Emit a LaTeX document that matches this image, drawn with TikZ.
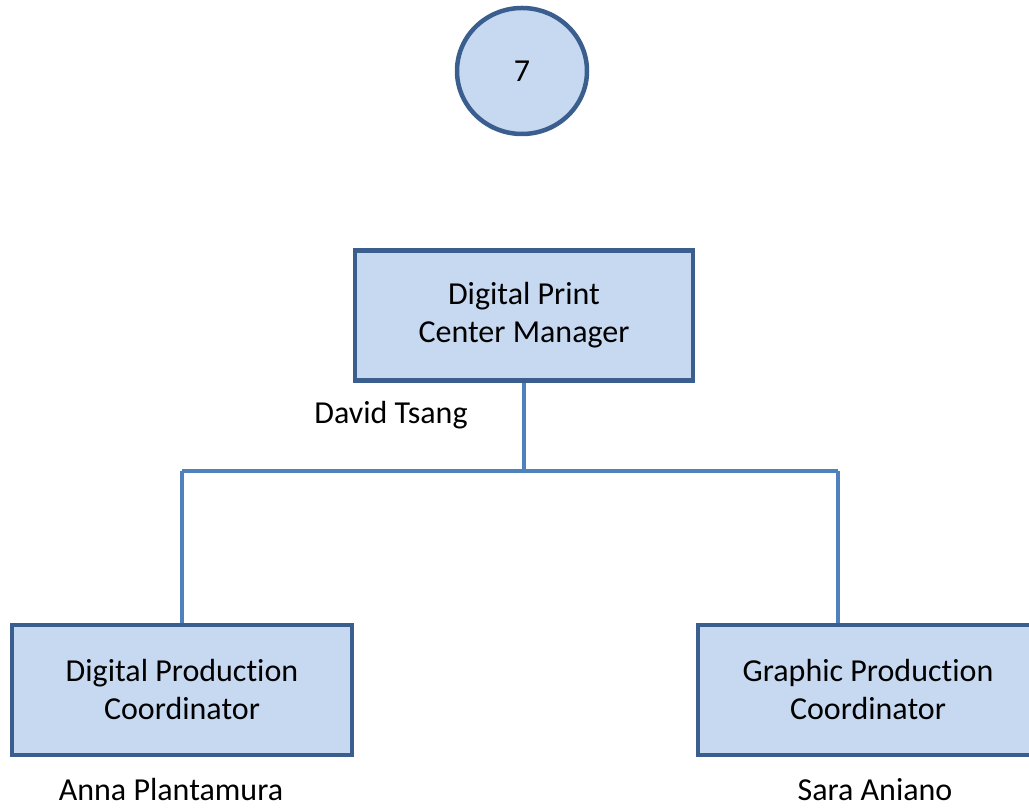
\documentclass[tikz,border=0pt]{standalone}
\usepackage{fontspec}
\setmainfont[Ligatures={NoCommon}]{Carlito}
\usetikzlibrary{shapes.geometric,backgrounds}
\definecolor{boxfill}{HTML}{C6D9F1}
\definecolor{boxline}{HTML}{3A5F8E}
\definecolor{conn}{HTML}{4F81BD}
\begin{document}
\begin{tikzpicture}[x=1pt,y=1pt,
  orgbox/.style={draw=boxline,fill=boxfill,line width=4.5pt,rectangle,minimum width=338pt,minimum height=130pt,align=center,inner sep=0pt,font=\fontsize{32}{38}\selectfont},
  label/.style={font=\fontsize{32}{38}\selectfont,inner sep=0pt},
  connector/.style={draw=conn,line width=4pt}]
\useasboundingbox (0,0) rectangle (1029,810);
\clip (0,0) rectangle (1029,810);
\node[ellipse,draw=boxline,fill=boxfill,line width=4.5pt,minimum width=130pt,minimum height=126pt,inner sep=0pt,font=\fontsize{32}{38}\selectfont] (seven) at (522,739) {7};
\node[orgbox] (mgr) at (524,494.5) {Digital Print\\Center Manager};
\node[orgbox,minimum width=340pt] (dpc) at (182,120) {Digital Production\\Coordinator};
\node[orgbox,minimum width=340pt] (gpc) at (868,120) {Graphic Production\\Coordinator};
\coordinate (j) at (524,339);
\coordinate (jl) at (182,339);
\coordinate (jr) at (838,339);
\begin{scope}[on background layer]
\draw[connector] (mgr.south) -- (j);
\draw[connector] (jl) -- (jr);
\draw[connector] (jl) -- (dpc.north);
\draw[connector] (jr) -- (jr |- gpc.north);
\end{scope}
\node[label] (david) at (391,395) {David Tsang};
\node[label] (anna) at (171,20) {Anna Plantamura};
\node[label] (sara) at (875,20) {Sara Aniano};
\end{tikzpicture}
\end{document}
